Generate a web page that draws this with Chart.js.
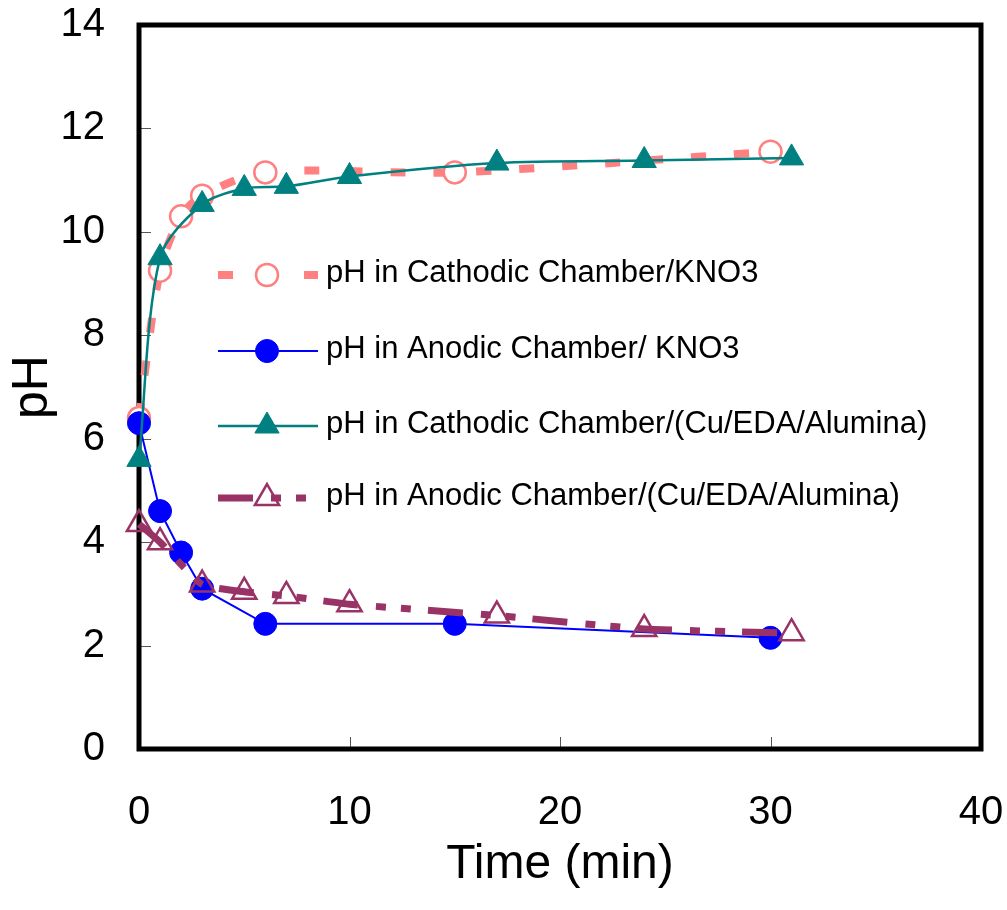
<!DOCTYPE html>
<html>
<head>
<meta charset="utf-8">
<script src="https://cdn.jsdelivr.net/npm/chart.js@4.4.1/dist/chart.umd.min.js"></script>
<style>
  html, body { margin: 0; padding: 0; background: #fff; }
</style>
</head>
<body>
<canvas id="phChart" width="1007" height="910"></canvas>
<script>
// time (min) and pH for each chamber
const timeCathKNO3 = [0, 1, 2, 3, 6, 15, 30];
const phCathKNO3   = [6.4, 9.25, 10.3, 10.7, 11.15, 11.15, 11.55];

const timeAnKNO3 = [0, 1, 2, 3, 6, 15, 30];
const phAnKNO3   = [6.3, 4.6, 3.8, 3.1, 2.42, 2.42, 2.15];

const timeCathCu = [0, 1, 3, 5, 7, 10, 17, 24, 31];
const phCathCu   = [5.6, 9.5, 10.53, 10.84, 10.88, 11.07, 11.33, 11.38, 11.43];

const timeAnCu = [0, 1, 3, 5, 7, 10, 17, 24, 31];
const phAnCu   = [4.35, 4.0, 3.18, 3.04, 2.96, 2.8, 2.58, 2.32, 2.24];

const seriesLabels = [
  'pH in Cathodic Chamber/KNO3',
  'pH in Anodic Chamber/ KNO3',
  'pH in Cathodic Chamber/(Cu/EDA/Alumina)',
  'pH in Anodic Chamber/(Cu/EDA/Alumina)'
];

const xTicks = [0, 10, 20, 30, 40];
const yTicks = [0, 2, 4, 6, 8, 10, 12, 14];

const font = '"Liberation Sans", Arial, sans-serif';

function pts(xs, ys) {
  return xs.map((x, i) => ({ x: x, y: ys[i] }));
}

// draws a marker the same way in the legend
function marker(ctx, ds, x, y) {
  const r = ds.pointRadius;
  ctx.save();
  ctx.setLineDash([]);
  ctx.lineWidth = ds.pointBorderWidth;
  ctx.strokeStyle = ds.pointBorderColor;
  ctx.fillStyle = ds.pointBackgroundColor;
  ctx.beginPath();
  if (ds.pointStyle === 'triangle') {
    ctx.moveTo(x, y - r);
    ctx.lineTo(x + r * Math.sin(2 * Math.PI / 3), y + r / 2);
    ctx.lineTo(x - r * Math.sin(2 * Math.PI / 3), y + r / 2);
    ctx.closePath();
  } else {
    ctx.arc(x, y, r, 0, Math.PI * 2);
  }
  ctx.fill();
  ctx.stroke();
  ctx.restore();
}

// black box round the plot plus small inward ticks
const framePlugin = {
  id: 'frame',
  beforeDatasetsDraw(chart) {
    const { ctx, chartArea: a, scales } = chart;
    ctx.save();
    ctx.strokeStyle = '#555';
    ctx.lineWidth = 1;
    ctx.beginPath();
    yTicks.slice(1, -1).forEach(v => {
      const y = Math.round(scales.y.getPixelForValue(v)) + 0.5;
      ctx.moveTo(a.left, y);
      ctx.lineTo(a.left + 12, y);
    });
    xTicks.slice(1, -1).forEach(v => {
      const x = Math.round(scales.x.getPixelForValue(v)) + 0.5;
      ctx.moveTo(x, a.bottom);
      ctx.lineTo(x, a.bottom - 12);
    });
    ctx.stroke();
    ctx.strokeStyle = '#000';
    ctx.lineWidth = 5;
    ctx.strokeRect(a.left, a.top, a.right - a.left, a.bottom - a.top);
    ctx.restore();
  }
};

// legend drawn inside the plot area
const legendPlugin = {
  id: 'insideLegend',
  afterDatasetsDraw(chart) {
    const ctx = chart.ctx;
    const rows = [275, 351, 426, 498];
    chart.data.datasets.forEach((ds, i) => {
      const y = rows[i];
      ctx.save();
      ctx.strokeStyle = ds.borderColor;
      ctx.lineWidth = ds.borderWidth;
      ctx.setLineDash(ds.borderDash || []);
      ctx.beginPath();
      ctx.moveTo(218, y);
      ctx.lineTo(318, y);
      ctx.stroke();
      ctx.restore();
      marker(ctx, ds, 267, y);
      ctx.save();
      ctx.fillStyle = '#000';
      ctx.font = '31px ' + font;
      ctx.textBaseline = 'middle';
      ctx.textAlign = 'left';
      ctx.fillText(ds.label, 326, y - 2);
      ctx.restore();
    });
  }
};

new Chart(document.getElementById('phChart').getContext('2d'), {
  type: 'scatter',
  data: {
    datasets: [
      {
        label: seriesLabels[0],
        data: pts(timeCathKNO3, phCathKNO3),
        showLine: true,
        tension: 0.3,
        borderColor: '#FF8080',
        borderWidth: 8,
        borderDash: [15, 28],
        pointStyle: 'circle',
        pointRadius: 11,
        pointBorderWidth: 2.5,
        pointBorderColor: '#FF8080',
        pointBackgroundColor: '#FFFFFF',
        clip: false,
        order: 4
      },
      {
        label: seriesLabels[1],
        data: pts(timeAnKNO3, phAnKNO3),
        showLine: true,
        tension: 0,
        borderColor: '#0000FF',
        borderWidth: 2,
        pointStyle: 'circle',
        pointRadius: 11.5,
        pointBorderWidth: 1,
        pointBorderColor: '#0000FF',
        pointBackgroundColor: '#0000FF',
        clip: false,
        order: 3
      },
      {
        label: seriesLabels[2],
        data: pts(timeCathCu, phCathCu),
        showLine: true,
        tension: 0.3,
        borderColor: '#008080',
        borderWidth: 2.5,
        pointStyle: 'triangle',
        pointRadius: 14,
        pointBorderWidth: 1,
        pointBorderColor: '#008080',
        pointBackgroundColor: '#008080',
        clip: false,
        order: 2
      },
      {
        label: seriesLabels[3],
        data: pts(timeAnCu, phAnCu),
        showLine: true,
        tension: 0.15,
        borderColor: '#993366',
        borderWidth: 7,
        borderDash: [35, 18, 10, 15, 10, 17],
        pointStyle: 'triangle',
        pointRadius: 14,
        pointBorderWidth: 2.5,
        pointBorderColor: '#993366',
        pointBackgroundColor: 'rgba(255,255,255,0)',
        clip: false,
        order: 1
      }
    ]
  },
  options: {
    responsive: false,
    animation: false,
    layout: { autoPadding: false, padding: { top: 25, right: 26, bottom: 0, left: 0 } },
    plugins: {
      legend: { display: false },
      tooltip: { enabled: false }
    },
    scales: {
      x: {
        type: 'linear',
        min: 0,
        max: 40,
        afterBuildTicks: s => { s.ticks = xTicks.map(v => ({ value: v })); },
        afterFit: s => {
          s.height = 161;
          s.paddingLeft = 0;
          s.paddingRight = 0;
        },
        grid: { display: false, drawTicks: false },
        border: { display: false },
        ticks: { color: '#000', padding: 40, maxRotation: 0, font: { family: font, size: 40 } },
        title: {
          display: true,
          text: 'Time (min)',
          color: '#000',
          padding: { top: 0, bottom: 16 },
          font: { family: font, size: 48 }
        }
      },
      y: {
        type: 'linear',
        min: 0,
        max: 14,
        afterBuildTicks: s => { s.ticks = yTicks.map(v => ({ value: v })); },
        afterFit: s => {
          s.width = 139;
          s.paddingTop = 0;
          s.paddingBottom = 0;
        },
        grid: { display: false, drawTicks: false },
        border: { display: false },
        ticks: { color: '#000', padding: 34, font: { family: font, size: 40 } },
        title: {
          display: true,
          text: 'pH',
          color: '#000',
          padding: { top: 3, bottom: 0 },
          font: { family: font, size: 50 }
        }
      }
    }
  },
  plugins: [framePlugin, legendPlugin]
});
</script>
</body>
</html>
